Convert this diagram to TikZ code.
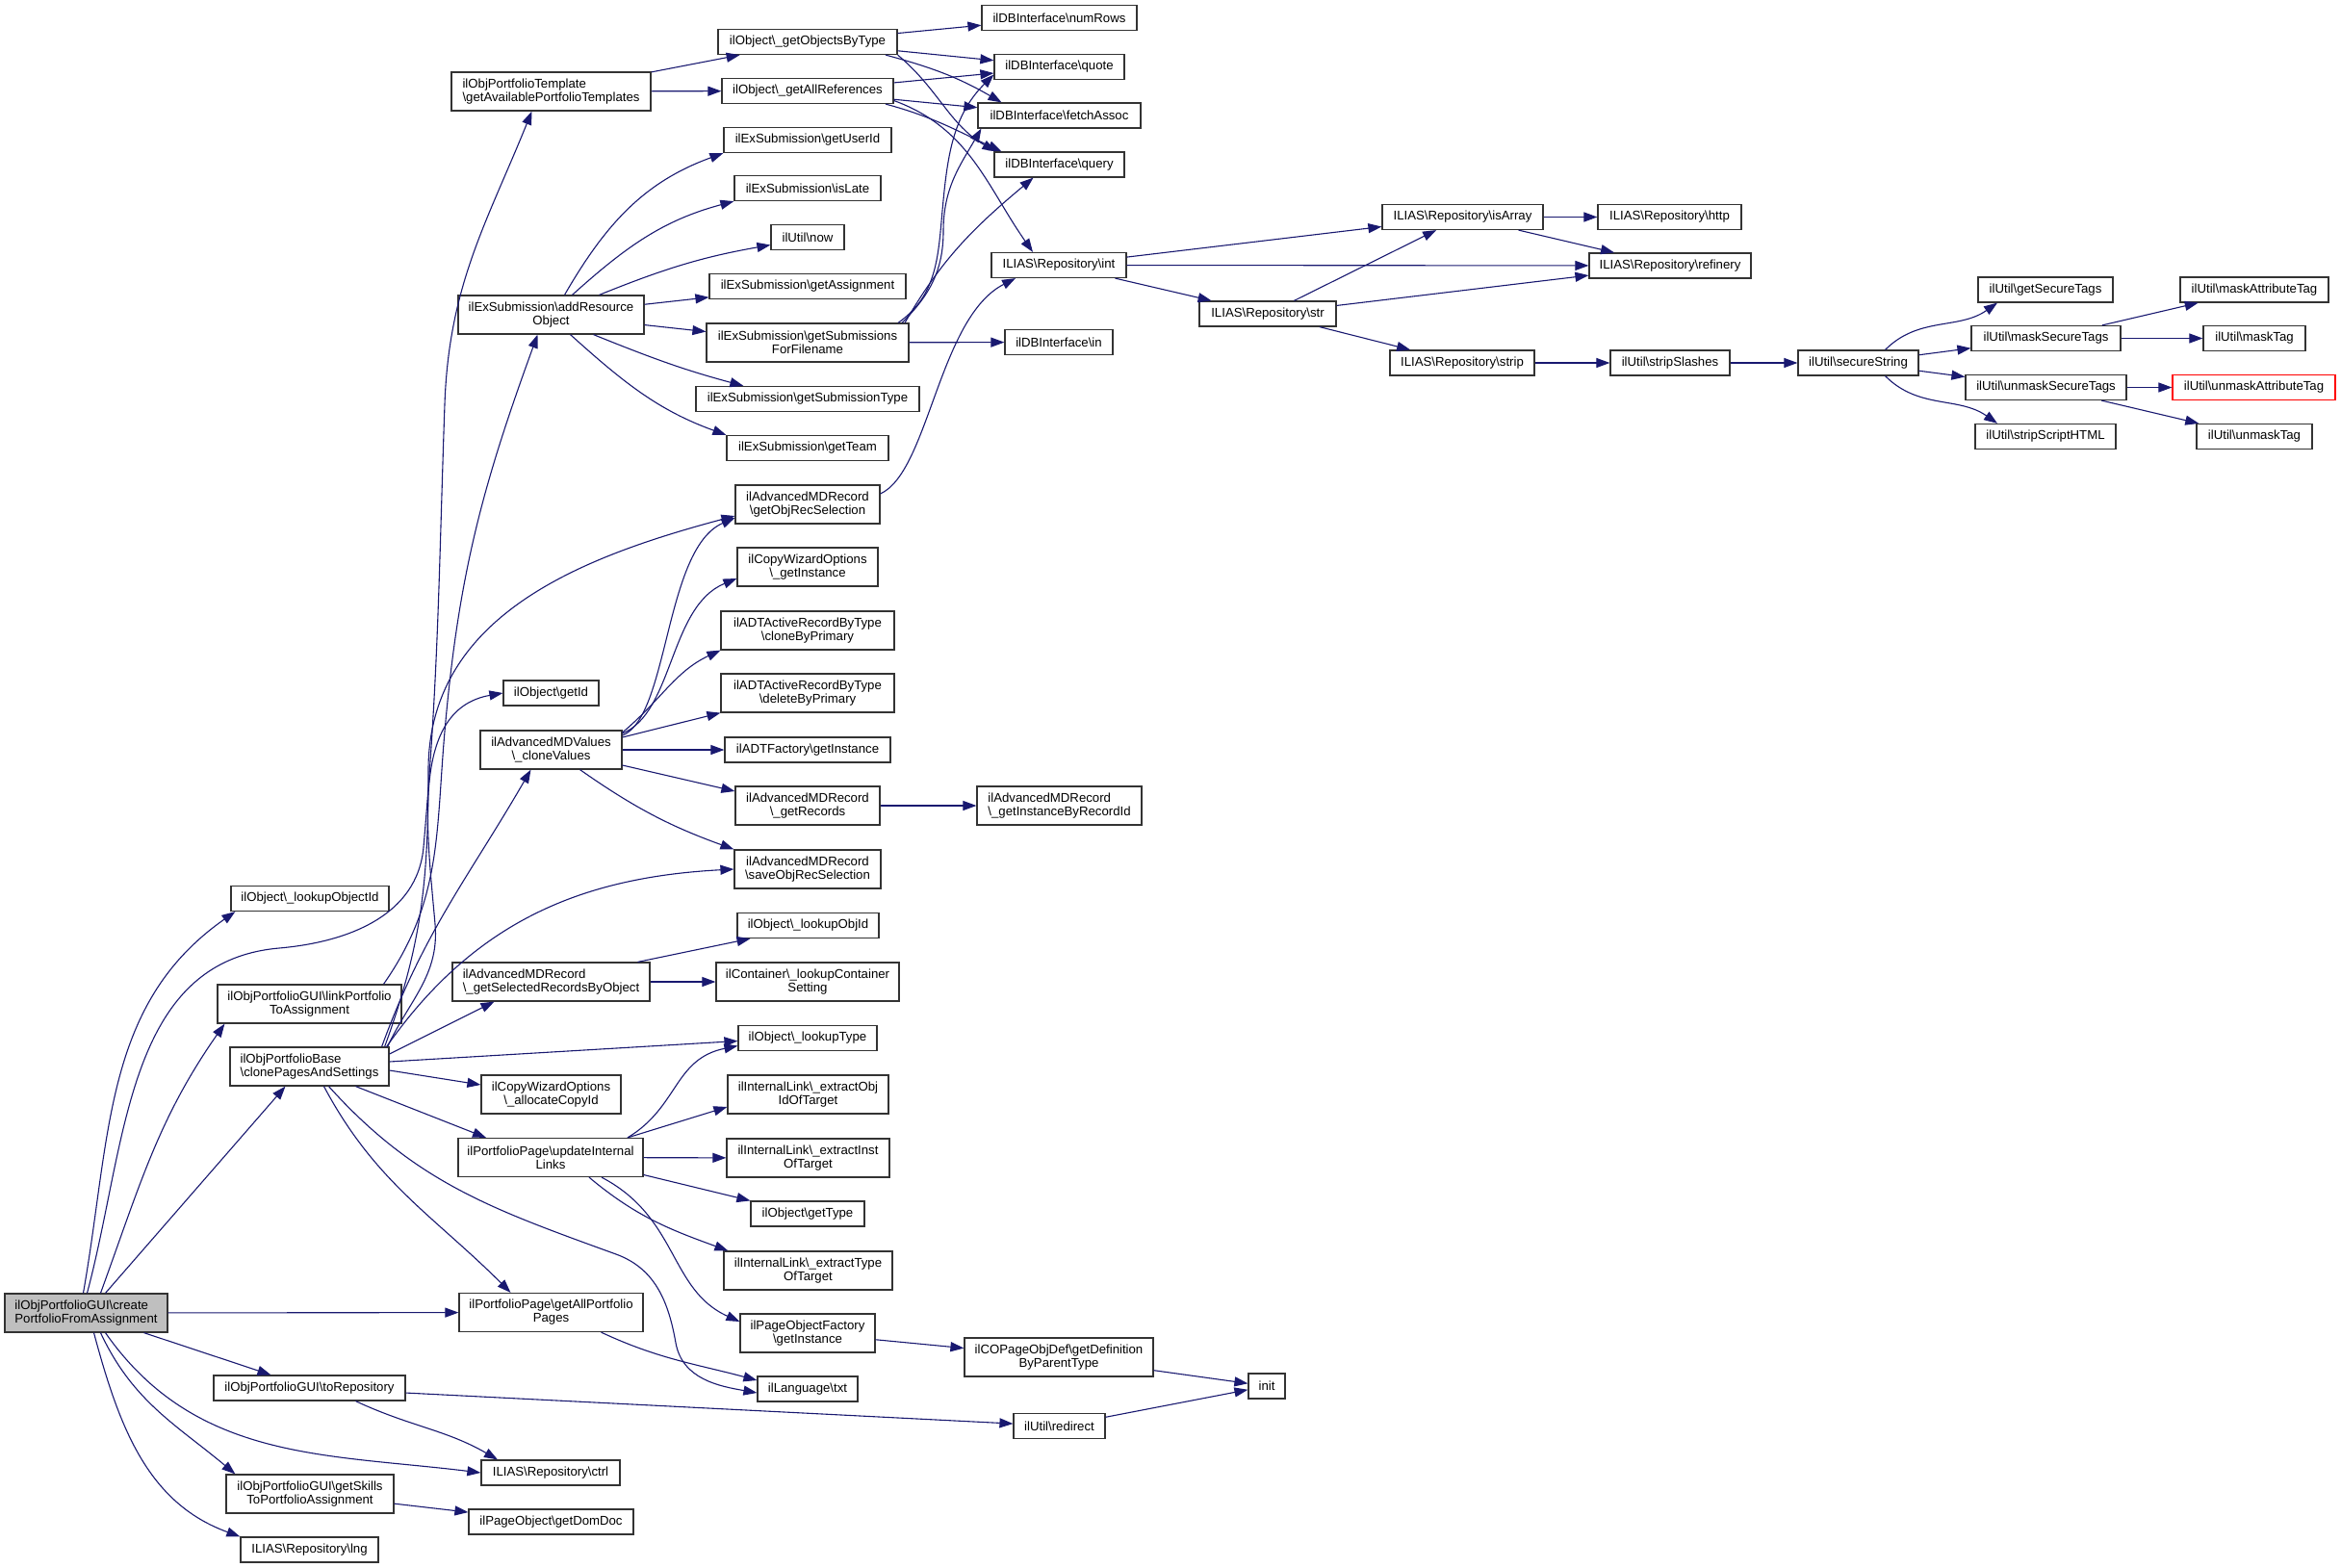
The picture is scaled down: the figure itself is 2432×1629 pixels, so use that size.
\documentclass[tikz,border=0pt]{standalone}
\usepackage{fontspec}
\setmainfont{Liberation Sans}
\usepackage{xcolor}
\usepackage{tikz}
\usetikzlibrary{arrows.meta}

\definecolor{edgeblue}{HTML}{191970}
\definecolor{mainfill}{HTML}{BFBFBF}
\newcommand{\bsl}{\textbackslash}

\tikzset{
  fn/.style={draw=black!80, line width=1.2pt, fill=white, inner sep=0pt, align=center,
    font=\fontsize{13.2}{14}\selectfont},
  oneline/.style={minimum height=26pt},
  twoline/.style={minimum height=40pt},
  lft/.style={align=left},
  call/.style={draw=edgeblue, line width=1.1pt, -{Triangle[length=14pt,width=10pt]}}
}

\begin{document}
\begin{tikzpicture}[x=1pt,y=1pt]
        \useasboundingbox (0,0) rectangle (2432,-1629);

        % Caller
        \node[fn, twoline, lft, fill=mainfill, minimum width=169pt] (M) at (89.5,-1364) {ilObjPortfolioGUI\bsl{}create\\PortfolioFromAssignment};

        % Second column
        \node[fn, oneline, minimum width=164pt] (LOI) at (322,-933.5) {ilObject\bsl\_lookupObjectId};
        \node[fn, twoline, minimum width=191pt] (LPA) at (321.5,-1043) {ilObjPortfolioGUI\bsl{}linkPortfolio\\ToAssignment};
        \node[fn, twoline, lft, minimum width=165pt] (CPS) at (321.5,-1108) {ilObjPortfolioBase\\\bsl{}clonePagesAndSettings};
        \node[fn, oneline, minimum width=199pt] (TR) at (321.5,-1442) {ilObjPortfolioGUI\bsl{}toRepository};
        \node[fn, twoline, minimum width=174pt] (GS) at (322,-1552) {ilObjPortfolioGUI\bsl{}getSkills\\ToPortfolioAssignment};
        \node[fn, oneline, minimum width=143pt] (LNG) at (321.5,-1610) {ILIAS\bsl{}Repository\bsl{}lng};

        % Third column
        \node[fn, twoline, lft, minimum width=207pt] (GAPT) at (572.5,-95) {ilObjPortfolioTemplate\\\bsl{}getAvailablePortfolioTemplates};
        \node[fn, twoline, minimum width=193pt] (ARO) at (572.5,-327) {ilExSubmission\bsl{}addResource\\Object};
        \node[fn, oneline, minimum width=99pt] (GID) at (572.5,-720) {ilObject\bsl{}getId};
        \node[fn, twoline, minimum width=147pt] (CV) at (572.5,-779) {ilAdvancedMDValues\\\bsl\_cloneValues};
        \node[fn, twoline, lft, minimum width=205pt] (GSRO) at (572.5,-1020) {ilAdvancedMDRecord\\\bsl\_getSelectedRecordsByObject};
        \node[fn, twoline, minimum width=145pt] (ACI) at (572.5,-1137) {ilCopyWizardOptions\\\bsl\_allocateCopyId};
        \node[fn, twoline, minimum width=192pt] (UIL) at (572,-1202.5) {ilPortfolioPage\bsl{}updateInternal\\Links};
        \node[fn, twoline, minimum width=191pt] (GAPP) at (572.5,-1363.5) {ilPortfolioPage\bsl{}getAllPortfolio\\Pages};
        \node[fn, oneline, minimum width=144pt] (CTRL) at (572,-1530) {ILIAS\bsl{}Repository\bsl{}ctrl};
        \node[fn, oneline, minimum width=171pt] (GDD) at (572.5,-1581) {ilPageObject\bsl{}getDomDoc};

        % Fourth column
        \node[fn, oneline, minimum width=186pt] (GOBT) at (839,-43.5) {ilObject\bsl\_getObjectsByType};
        \node[fn, oneline, minimum width=178pt] (GAR) at (839,-94.5) {ilObject\bsl\_getAllReferences};
        \node[fn, oneline, minimum width=174pt] (GUID) at (839,-145.5) {ilExSubmission\bsl{}getUserId};
        \node[fn, oneline, minimum width=152pt] (ISL) at (839,-195.5) {ilExSubmission\bsl{}isLate};
        \node[fn, oneline, minimum width=76pt] (NOW) at (839,-246.5) {ilUtil\bsl{}now};
        \node[fn, oneline, minimum width=204pt] (GASS) at (839,-297.5) {ilExSubmission\bsl{}getAssignment};
        \node[fn, twoline, minimum width=210pt] (GSFF) at (839,-356) {ilExSubmission\bsl{}getSubmissions\\ForFilename};
        \node[fn, oneline, minimum width=232pt] (GSTY) at (839,-414.5) {ilExSubmission\bsl{}getSubmissionType};
        \node[fn, oneline, minimum width=168pt] (GTM) at (839,-465.5) {ilExSubmission\bsl{}getTeam};
        \node[fn, twoline, minimum width=150pt] (GORS) at (839,-524) {ilAdvancedMDRecord\\\bsl{}getObjRecSelection};
        \node[fn, twoline, minimum width=146pt] (CWI) at (839,-589) {ilCopyWizardOptions\\\bsl\_getInstance};
        \node[fn, twoline, minimum width=180pt] (CBP) at (839,-655) {ilADTActiveRecordByType\\\bsl{}cloneByPrimary};
        \node[fn, twoline, minimum width=180pt] (DBP) at (839,-720) {ilADTActiveRecordByType\\\bsl{}deleteByPrimary};
        \node[fn, oneline, minimum width=172pt] (ADTF) at (839,-779) {ilADTFactory\bsl{}getInstance};
        \node[fn, twoline, minimum width=150pt] (GREC) at (839,-837) {ilAdvancedMDRecord\\\bsl\_getRecords};
        \node[fn, twoline, minimum width=152pt] (SORS) at (839,-903) {ilAdvancedMDRecord\\\bsl{}saveObjRecSelection};
        \node[fn, oneline, minimum width=147pt] (LOID) at (839.5,-961.5) {ilObject\bsl\_lookupObjId};
        \node[fn, twoline, minimum width=190pt] (LCS) at (839,-1020) {ilContainer\bsl\_lookupContainer\\Setting};
        \node[fn, oneline, minimum width=144pt] (LTY) at (839,-1078.5) {ilObject\bsl\_lookupType};
        \node[fn, twoline, minimum width=167pt] (EOI) at (839.5,-1137) {ilInternalLink\bsl\_extractObj\\IdOfTarget};
        \node[fn, twoline, minimum width=169pt] (EIT) at (839.5,-1203) {ilInternalLink\bsl\_extractInst\\OfTarget};
        \node[fn, oneline, minimum width=118pt] (GTY) at (839,-1261) {ilObject\bsl{}getType};
        \node[fn, twoline, minimum width=175pt] (ETT) at (839.5,-1320) {ilInternalLink\bsl\_extractType\\OfTarget};
        \node[fn, twoline, minimum width=140pt] (POF) at (839,-1385) {ilPageObjectFactory\\\bsl{}getInstance};
        \node[fn, oneline, minimum width=104pt] (TXT) at (839,-1443) {ilLanguage\bsl{}txt};

        % Fifth column
        \node[fn, oneline, minimum width=161pt] (NR) at (1100.5,-18.5) {ilDBInterface\bsl{}numRows};
        \node[fn, oneline, minimum width=135pt] (QT) at (1100.5,-69.5) {ilDBInterface\bsl{}quote};
        \node[fn, oneline, minimum width=169pt] (FA) at (1100.5,-120) {ilDBInterface\bsl{}fetchAssoc};
        \node[fn, oneline, minimum width=135pt] (QY) at (1100.5,-171) {ilDBInterface\bsl{}query};
        \node[fn, oneline, minimum width=140pt] (INT) at (1100,-275.5) {ILIAS\bsl{}Repository\bsl{}int};
        \node[fn, oneline, minimum width=112pt] (IN) at (1100,-355.5) {ilDBInterface\bsl{}in};
        \node[fn, twoline, lft, minimum width=171pt] (GIBR) at (1100.5,-837) {ilAdvancedMDRecord\\\bsl\_getInstanceByRecordId};
        \node[fn, twoline, minimum width=196pt] (GDPT) at (1100,-1410) {ilCOPageObjDef\bsl{}getDefinition\\ByParentType};
        \node[fn, oneline, minimum width=95pt] (RED) at (1100.5,-1481.5) {ilUtil\bsl{}redirect};

        % Repository and string helpers
        \node[fn, oneline, minimum width=142pt] (STR) at (1317,-326) {ILIAS\bsl{}Repository\bsl{}str};
        \node[fn, oneline, minimum width=38pt] (INIT) at (1316,-1440) {init};
        \node[fn, oneline, minimum width=167pt] (IA) at (1519.5,-225.5) {ILIAS\bsl{}Repository\bsl{}isArray};
        \node[fn, oneline, minimum width=150pt] (SP) at (1519,-377) {ILIAS\bsl{}Repository\bsl{}strip};
        \node[fn, oneline, minimum width=149pt] (HTTP) at (1734.5,-225.5) {ILIAS\bsl{}Repository\bsl{}http};
        \node[fn, oneline, minimum width=168pt] (RF) at (1735,-276) {ILIAS\bsl{}Repository\bsl{}refinery};
        \node[fn, oneline, minimum width=124pt] (SS) at (1735,-377) {ilUtil\bsl{}stripSlashes};
        \node[fn, oneline, minimum width=125pt] (SEC) at (1930.5,-377) {ilUtil\bsl{}secureString};
        \node[fn, oneline, minimum width=140pt] (GSTG) at (2125,-301) {ilUtil\bsl{}getSecureTags};
        \node[fn, oneline, minimum width=155pt] (MST) at (2125.5,-351.5) {ilUtil\bsl{}maskSecureTags};
        \node[fn, oneline, minimum width=167pt] (UST) at (2125.5,-402.5) {ilUtil\bsl{}unmaskSecureTags};
        \node[fn, oneline, minimum width=146pt] (SSH) at (2125,-453.5) {ilUtil\bsl{}stripScriptHTML};
        \node[fn, oneline, minimum width=154pt] (MAT) at (2342,-301) {ilUtil\bsl{}maskAttributeTag};
        \node[fn, oneline, minimum width=106pt] (MT) at (2342,-351.5) {ilUtil\bsl{}maskTag};
        \node[fn, oneline, draw=red, minimum width=169pt] (UAT) at (2341.5,-402.5) {ilUtil\bsl{}unmaskAttributeTag};
        \node[fn, oneline, minimum width=120pt] (UT) at (2342,-453.5) {ilUtil\bsl{}unmaskTag};

        % Straight calls
        \foreach \a/\b in {M/GAPP, GAPT/GOBT, GAPT/GAR, GOBT/NR, GOBT/QT, GAR/QT, GAR/FA,
            ARO/GASS, ARO/GSFF, GSFF/IN, INT/IA, INT/RF, INT/STR, STR/IA, STR/RF, STR/SP,
            IA/HTTP, IA/RF, SP/SS, SS/SEC, SEC/MST, SEC/UST, MST/MAT, MST/MT, UST/UAT, UST/UT,
            CV/ADTF, GREC/GIBR, GSRO/LCS, UIL/EIT, POF/GDPT, GDPT/INIT, RED/INIT, TR/RED, GS/GDD} {
            \draw[call] (\a) -- (\b);
        }

        % Calls from the caller
        \draw[call] ([xshift=-3pt]M.north) to[out=80,in=215] ([xshift=5pt]LOI.south west);
        \draw[call] ([xshift=1pt]M.north) to[out=75,in=185] (290,-985) to[out=5,in=265] (440,-880)
            to[out=85,in=268] (462,-420) to[out=88,in=248] ([xshift=-20pt]GAPT.south);
        \draw[call] ([xshift=15pt]M.north) to[out=70,in=235] ([xshift=8pt]LPA.south west);
        \draw[call] ([xshift=20pt]M.north) -- ([xshift=-25pt]CPS.south);
        \draw[call] ([xshift=60pt]M.south) -- ([xshift=-40pt]TR.north);
        \draw[call] ([xshift=20pt]M.south) to[out=-55,in=173] (CTRL.west);
        \draw[call] ([xshift=15pt]M.south) to[out=-65,in=140] ([xshift=10pt]GS.north west);
        \draw[call] ([xshift=8pt]M.south) to[out=-75,in=160] (LNG.north west);

        % Link and clone
        \draw[call] ([xshift=77pt]LPA.north) to[out=55,in=265] (462,-760) to[out=85,in=250] ([xshift=-14pt]ARO.south);
        \draw[call] ([xshift=-2pt]CPS.north east) to[out=65,in=275] (452,-960) to[out=95,in=190] (GID.west);
        \draw[call] ([xshift=-5pt]CPS.north east) to[out=70,in=270] (445,-800) to[out=90,in=195] ([yshift=-12pt]GORS.west);
        \draw[call] ([xshift=-8pt]CPS.north east) to[out=70,in=240] ([xshift=-21pt]CV.south);
        \draw[call] ([xshift=-3pt]CPS.north east) to[out=55,in=183] (SORS.west);
        \draw[call] ([yshift=13pt]CPS.east) -- ([xshift=-59pt]GSRO.south);
        \draw[call] ([yshift=5pt]CPS.east) -- ([yshift=-3pt]LTY.west);
        \draw[call] ([yshift=-4pt]CPS.east) -- ([yshift=10pt]ACI.west);
        \draw[call] ([xshift=48pt]CPS.south) -- ([xshift=-67pt]UIL.north);
        \draw[call] ([xshift=15pt]CPS.south) to[out=-62,in=135] ([xshift=-42pt]GAPP.north);
        \draw[call] ([xshift=20pt]CPS.south) to[out=-48,in=160] (640,-1303) to[out=-20,in=100] (702,-1395)
            to[out=-80,in=170] ([yshift=-4pt]TXT.west);
        \draw[call] ([xshift=52pt]GAPP.south) to[out=-25,in=165] ([yshift=9pt]TXT.west);

        % Internal links
        \draw[call] ([xshift=80pt]UIL.north) .. controls (705,-1150) and (700,-1100) .. ([yshift=-8pt]LTY.west);
        \draw[call] ([xshift=80pt]UIL.north) -- ([yshift=-13pt]EOI.west);
        \draw[call] ([yshift=-18pt]UIL.east) -- (GTY.north west);
        \draw[call] ([xshift=40pt]UIL.south) to[out=-40,in=160] ([xshift=5pt]ETT.north west);
        \draw[call] ([xshift=53pt]UIL.south) .. controls (705,-1265) and (695,-1340) .. ([yshift=12pt]POF.west);
        \draw[call] ([xshift=48pt]TR.south) to[out=-25,in=150] ([xshift=-55pt]CTRL.north);

        % Submission
        \draw[call] ([xshift=14pt]ARO.north) to[out=60,in=200] (GUID.south west);
        \draw[call] ([xshift=22pt]ARO.north) to[out=42,in=195] (ISL.south west);
        \draw[call] ([xshift=50pt]ARO.north) to[out=22,in=190] ([yshift=-8pt]NOW.west);
        \draw[call] ([xshift=44pt]ARO.south) to[out=-22,in=165] ([xshift=50pt]GSTY.north west);
        \draw[call] ([xshift=20pt]ARO.south) to[out=-42,in=160] (GTM.north west);

        % Database
        \draw[call] ([xshift=81pt]GOBT.south) to[out=-15,in=150] ([xshift=-60pt]FA.north);
        \draw[call] (GOBT.south east) to[out=-40,in=150] ([xshift=2pt]QY.north west);
        \draw[call] ([xshift=81pt]GAR.south) to[out=-15,in=155] ([xshift=8pt]QY.north west);
        \draw[call] ([yshift=-10pt]GAR.east) to[out=-20,in=125] ([xshift=-27pt]INT.north);
        \draw[call] ([xshift=94pt]GSFF.north) to[out=35,in=265] (978,-230) to[out=85,in=225] ([yshift=-8pt]QT.west);
        \draw[call] ([xshift=98pt]GSFF.north) to[out=45,in=270] (980,-240) to[out=90,in=240] ([xshift=4pt]FA.south west);
        \draw[call] ([xshift=101pt]GSFF.north) to[out=60,in=220] ([xshift=-27pt]QY.south);
        \draw[call] ([yshift=11pt]GORS.east) .. controls (965,-490) and (975,-330) .. ([xshift=-45pt]INT.south);

        % Metadata
        \draw[call] ([yshift=15pt]CV.east) .. controls (695,-745) and (690,-570) .. ([yshift=-14pt]GORS.west);
        \draw[call] ([yshift=17pt]CV.east) .. controls (700,-740) and (695,-630) .. ([yshift=-12pt]CWI.west);
        \draw[call] ([yshift=18pt]CV.east) to[out=40,in=205] (CBP.south west);
        \draw[call] ([yshift=13pt]CV.east) -- (DBP.south west);
        \draw[call] ([yshift=-16pt]CV.east) -- ([yshift=15pt]GREC.west);
        \draw[call] ([xshift=30pt]CV.south) to[out=-35,in=160] (SORS.north west);
        \draw[call] ([xshift=90pt]GSRO.north) -- ([xshift=-60pt]LOID.south);

        % Secure strings
        \draw[call] ([xshift=28pt]SEC.north) to[out=45,in=215] ([xshift=-50pt]GSTG.south);
        \draw[call] ([xshift=28pt]SEC.south) to[out=-45,in=145] ([xshift=-50pt]SSH.north);
    \end{tikzpicture}
\end{document}
